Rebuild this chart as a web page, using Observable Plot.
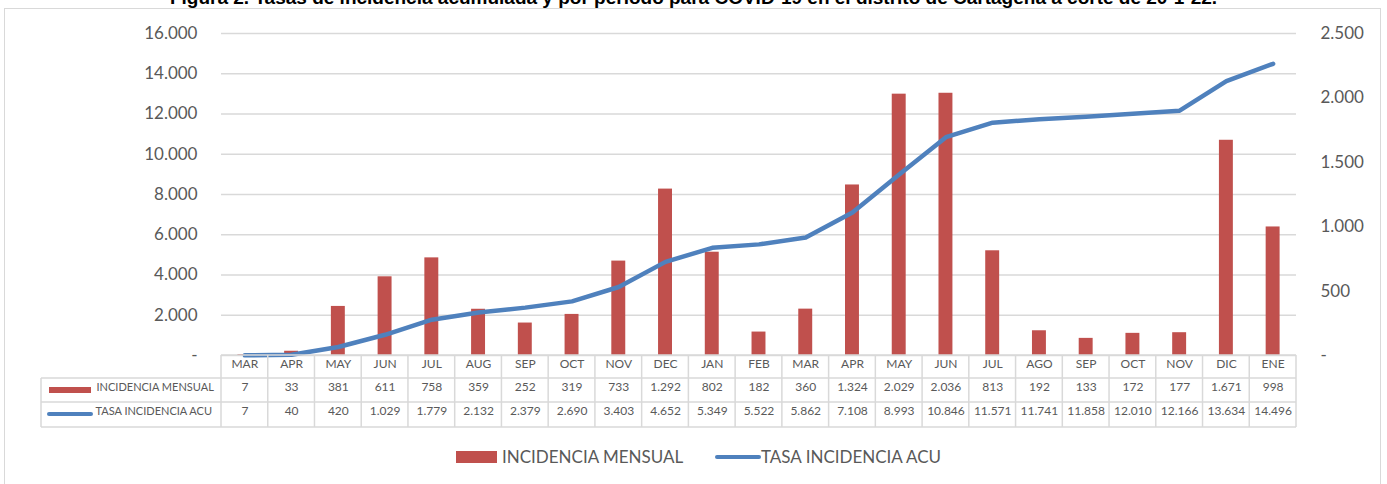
<!DOCTYPE html>
<html>
<head>
<meta charset="utf-8">
<script src="https://cdn.jsdelivr.net/npm/d3@7"></script>
<script src="https://cdn.jsdelivr.net/npm/@observablehq/plot@0.6"></script>
<style>
  html, body { margin: 0; padding: 0; background: #fff; width: 1387px; height: 484px; overflow: hidden; position: relative; }
  #frame { position: absolute; left: 4px; top: 8px; width: 1377px; height: 500px; border: 1.5px solid #D9D9D9; box-sizing: border-box; }
  #title { position: absolute; left: 0; top: -12px; width: 1387px; text-align: center; font: bold 19px "Liberation Sans", Arial, sans-serif; line-height: 19px; color: #000; white-space: nowrap; }
  #chart { position: absolute; left: 0; top: 0; }
  #legend { position: absolute; top: 446px; left: 0; width: 1387px; height: 22px; font-family: Lato, sans-serif; font-size: 17px; color: #595959; }
  .sw { position: absolute; }
  .lt { position: absolute; top: 0px; white-space: nowrap; }
</style>
</head>
<body>
<div id="frame"></div>
<div id="title">Figura 2. Tasas de incidencia acumulada y por periodo para COVID-19 en el distrito de Cartagena a corte de 20-1-22.</div>
<div id="chart"></div>
<div id="legend">
  <div class="sw" style="left:456px; top:5px; width:41px; height:12px; background:#C0504D;"></div>
  <div class="lt" style="left:502px;">INCIDENCIA MENSUAL</div>
  <div class="sw" style="left:715px; top:9px; width:46px; height:4px; border-radius:2px; background:#4F81BD;"></div>
  <div class="lt" style="left:761px;">TASA INCIDENCIA ACU</div>
</div>
<script>
const months = ["MAR","APR","MAY","JUN","JUL","AUG","SEP","OCT","NOV","DEC","JAN","FEB","MAR","APR","MAY","JUN","JUL","AGO","SEP","OCT","NOV","DIC","ENE"];
const mensual = [7,33,381,611,758,359,252,319,733,1292,802,182,360,1324,2029,2036,813,192,133,172,177,1671,998];
const acumulada = [7,40,420,1029,1779,2132,2379,2690,3403,4652,5349,5522,5862,7108,8993,10846,11571,11741,11858,12010,12166,13634,14496];
const seriesNames = ["INCIDENCIA MENSUAL", "TASA INCIDENCIA ACU"];
const leftTicks = [0,2000,4000,6000,8000,10000,12000,14000,16000];
const rightTicks = [0,500,1000,1500,2000,2500];
const leftMax = 16000, rightMax = 2500;
const k = leftMax / rightMax;

const RED = "#C0504D", BLUE = "#4F81BD", GRID = "#D9D9D9", TXT = "#595959";
const fmt = v => v === 0 ? "-" : d3.format(",")(v).replace(/,/g, ".");

const data = months.map((m, i) => ({i, m, mensual: mensual[i], acu: acumulada[i]}));

function tableMark(index, scales, values, dim) {
  const x = scales.x;
  const n = months.length;
  const x0 = x(0);
  const bw = x.bandwidth ? x.bandwidth() : (dim.width - dim.marginLeft - dim.marginRight) / n;
  const x1 = x0 + bw * n;
  const yb = dim.height - dim.marginBottom;
  const r0 = yb, r1 = yb + 23, r2 = yb + 47, r3 = yb + 72;
  const left = 41;
  const g = d3.create("svg:g").attr("stroke", GRID).attr("stroke-width", 1.5).attr("fill", "none");
  g.append("line").attr("x1", x0).attr("x2", x1).attr("y1", r0).attr("y2", r0);
  [r1, r2, r3].forEach(y => g.append("line").attr("x1", left).attr("x2", x1).attr("y1", y).attr("y2", y));
  for (let j = 0; j <= n; j++) {
    const xx = x0 + j * bw;
    g.append("line").attr("x1", xx).attr("x2", xx).attr("y1", r0).attr("y2", r3);
  }
  g.append("line").attr("x1", left).attr("x2", left).attr("y1", r1).attr("y2", r3);
  g.append("rect").attr("x", 49).attr("y", r1 + 9).attr("width", 42).attr("height", 6).attr("fill", RED).attr("stroke", "none");
  g.append("line").attr("x1", 49).attr("x2", 91).attr("y1", r2 + 12).attr("y2", r2 + 12).attr("stroke", BLUE).attr("stroke-width", 4).attr("stroke-linecap", "round");
  return g.node();
}

const plot = Plot.plot({
  width: 1387,
  height: 484,
  marginLeft: 221,
  marginRight: 91,
  marginTop: 33,
  marginBottom: 129,
  style: {fontFamily: "Lato, sans-serif", background: "transparent", color: TXT},
  x: {type: "band", domain: d3.range(months.length), padding: 0, round: false, axis: null},
  y: {domain: [0, leftMax], axis: null},
  marks: [
    Plot.gridY(leftTicks, {stroke: GRID, strokeOpacity: 1, strokeWidth: 1.5}),
    Plot.axisY(leftTicks, {anchor: "left", tickSize: 0, tickPadding: 24, tickFormat: fmt, fontSize: 17, fill: TXT, label: null}),
    Plot.axisY(rightTicks.map(v => v * k), {anchor: "right", tickSize: 0, tickPadding: 24, tickFormat: v => fmt(Math.round(v / k)), fontSize: 17, fill: TXT, label: null}),
    Plot.barY(data, {x: "i", y: d => d.mensual * k, fill: RED, insetLeft: 16.4, insetRight: 16.4}),
    Plot.line(data, {x: "i", y: "acu", stroke: BLUE, strokeWidth: 4.5, strokeLinejoin: "round", strokeLinecap: "round"}),
    tableMark,
    Plot.text(data, {x: "i", text: "m", frameAnchor: "bottom", dy: 12, fontSize: 12, fill: TXT}),
    Plot.text(data, {x: "i", text: d => fmt(d.mensual), frameAnchor: "bottom", dy: 35, fontSize: 12, fill: TXT}),
    Plot.text(data, {x: "i", text: d => fmt(d.acu), frameAnchor: "bottom", dy: 59.5, fontSize: 12, fill: TXT}),
    Plot.text([seriesNames[0]], {frameAnchor: "bottom-left", dx: -125, dy: 35, textAnchor: "start", fontSize: 11, fill: TXT}),
    Plot.text([seriesNames[1]], {frameAnchor: "bottom-left", dx: -126, dy: 59.5, textAnchor: "start", fontSize: 11, fill: TXT})
  ]
});
document.getElementById("chart").appendChild(plot);
</script>
</body>
</html>
